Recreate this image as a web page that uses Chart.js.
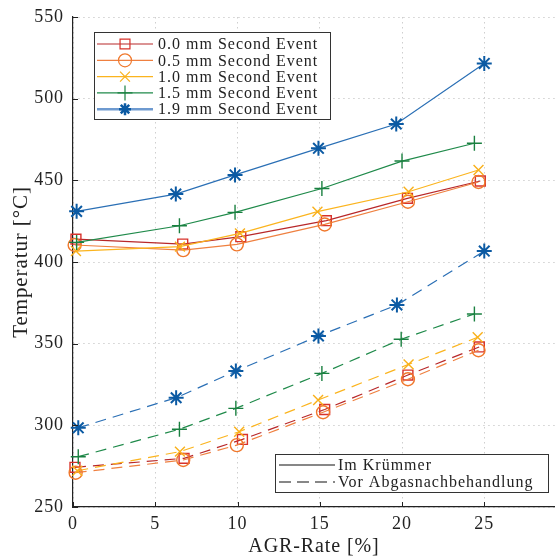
<!DOCTYPE html>
<html>
<head>
<meta charset="utf-8">
<script src="https://cdn.jsdelivr.net/npm/chart.js@4/dist/chart.umd.min.js"></script>
<style>
html,body{margin:0;padding:0;background:#fff;}
#wrap{width:555px;height:559px;position:relative;}
</style>
</head>
<body>
<div id="wrap"><canvas id="c" width="555" height="559"></canvas></div>
<script>
// ---- Data ----
const seriesNames = ['0.0 mm Second Event','0.5 mm Second Event','1.0 mm Second Event','1.5 mm Second Event','1.9 mm Second Event'];
const lineStyleNames = ['Im Krümmer','Vor Abgasnachbehandlung'];
const xTicks = [0,5,10,15,20,25];
const yTicks = [250,300,350,400,450,500,550];

// Im Krümmer (solid)
const x00s = [0.18, 6.67, 10.2, 15.4, 20.33, 24.76];
const y00s = [414.0, 411.0, 415.5, 425.3, 439.0, 449.6];
const x05s = [0.1, 6.7, 9.96, 15.3, 20.36, 24.65];
const y05s = [410.4, 407.3, 410.8, 423.0, 436.9, 449.0];
const x10s = [0.18, 6.5, 10.15, 14.86, 20.4, 24.65];
const y10s = [406.7, 409.4, 417.5, 430.8, 443.0, 456.3];
const x15s = [0.22, 6.47, 9.85, 15.13, 20.0, 24.4];
const y15s = [412.0, 422.2, 430.4, 445.0, 461.8, 472.7];
const x19s = [0.22, 6.25, 9.85, 14.92, 19.65, 25.0];
const y19s = [431.0, 441.6, 453.3, 469.6, 484.5, 521.6];

// Vor Abgasnachbehandlung (dashed)
const x00d = [0.12, 6.75, 10.3, 15.3, 20.36, 24.7];
const y00d = [274.3, 279.8, 291.4, 309.7, 330.8, 348.0];
const x05d = [0.16, 6.7, 9.96, 15.2, 20.36, 24.65];
const y05d = [271.0, 278.8, 287.9, 308.0, 328.2, 346.0];
const x10d = [0.26, 6.5, 10.1, 14.9, 20.4, 24.6];
const y10d = [272.2, 283.9, 296.1, 315.5, 337.3, 353.9];
const x15d = [0.32, 6.47, 9.9, 15.13, 19.95, 24.4];
const y15d = [280.8, 297.6, 310.4, 331.8, 352.7, 368.2];
const x19d = [0.32, 6.27, 9.9, 14.92, 19.69, 25.0];
const y19d = [298.5, 316.9, 333.2, 354.7, 373.7, 406.7];

// ---- Styles ----
const colors = ['#d8322b','#f0782c','#f9b01a','#1a8040','#0b5aa3'];
const lineColors = ['#b8282a','#ef8040','#fbb41e','#1f8a4a','#2a6fb5'];
const markers = ['rect','circle','crossRot','cross','star'];
const radii = [7, 6.5, 7, 7.5, 7.5];
const DASH = [11,7];

const solidX = [x00s,x05s,x10s,x15s,x19s], solidY = [y00s,y05s,y10s,y15s,y19s];
const dashX = [x00d,x05d,x10d,x15d,x19d], dashY = [y00d,y05d,y10d,y15d,y19d];

function pts(xs, ys){ return xs.map((x,i)=>({x:x,y:ys[i]})); }

const datasets = [];
for (let i=0;i<5;i++){
  datasets.push({
    label: seriesNames[i] + ' (' + lineStyleNames[0] + ')',
    data: pts(solidX[i], solidY[i]),
    borderColor: lineColors[i], backgroundColor: 'rgba(0,0,0,0)',
    borderWidth: 1.2, pointStyle: markers[i], pointRadius: radii[i],
    pointBorderColor: colors[i], pointBackgroundColor: 'rgba(0,0,0,0)',
    pointBorderWidth: i===4?2:1.4, tension: 0, clip: false, order: 5-i
  });
}
for (let i=0;i<5;i++){
  datasets.push({
    label: seriesNames[i] + ' (' + lineStyleNames[1] + ')',
    data: pts(dashX[i], dashY[i]),
    borderColor: lineColors[i], backgroundColor: 'rgba(0,0,0,0)',
    borderWidth: 1.2, borderDash: DASH, pointStyle: markers[i], pointRadius: radii[i],
    pointBorderColor: colors[i], pointBackgroundColor: 'rgba(0,0,0,0)',
    pointBorderWidth: i===4?2:1.4, tension: 0, clip: false, order: 5-i
  });
}

const SERIF = '"Liberation Serif","DejaVu Serif",serif';

const spacingPlugin = {
  id: 'spacing',
  beforeLayout(chart){ chart.ctx.letterSpacing = '0.9px'; },
  beforeDraw(chart){ chart.ctx.letterSpacing = '0.9px'; }
};

const legendPlugin = {
  id: 'customLegends',
  afterDraw(chart){
    const ctx = chart.ctx;
    ctx.save();
    ctx.letterSpacing = '1px';
    // Legend 1
    const bx = 94, by = 32, bw = 236, bh = 87;
    ctx.fillStyle = '#fff'; ctx.fillRect(bx,by,bw,bh);
    ctx.strokeStyle = '#333'; ctx.lineWidth = 1; ctx.setLineDash([]);
    ctx.strokeRect(bx+0.5,by+0.5,bw,bh);
    ctx.font = '16px ' + SERIF; ctx.textBaseline = 'middle'; ctx.textAlign = 'left';
    for (let i=0;i<5;i++){
      const yy = 44 + i*16.3;
      ctx.strokeStyle = i===4 ? '#6e9ad0' : lineColors[i]; ctx.lineWidth = i===4?2.5:1.2;
      ctx.beginPath(); ctx.moveTo(97,yy); ctx.lineTo(153,yy); ctx.stroke();
      ctx.strokeStyle = colors[i]; ctx.fillStyle='rgba(0,0,0,0)';
      Chart.helpers.drawPoint(ctx, {pointStyle: markers[i], radius: i===4?6:radii[i], borderWidth: i===4?1.8:1.4, rotation: 0}, 125, yy);
      ctx.fillStyle = '#222';
      ctx.fillText(seriesNames[i], 158, yy+1);
    }
    // Legend 2
    const cx = 275, cy = 454, cw = 273, ch = 38;
    ctx.fillStyle = '#fff'; ctx.fillRect(cx,cy,cw,ch);
    ctx.strokeStyle = '#333'; ctx.lineWidth = 1;
    ctx.strokeRect(cx+0.5,cy+0.5,cw,ch);
    ctx.strokeStyle = '#111'; ctx.lineWidth = 1.2;
    ctx.beginPath(); ctx.moveTo(279,465); ctx.lineTo(335,465); ctx.stroke();
    ctx.setLineDash([12,6]);
    ctx.beginPath(); ctx.moveTo(279,482); ctx.lineTo(335,482); ctx.stroke();
    ctx.setLineDash([]);
    ctx.fillStyle = '#222';
    ctx.fillText(lineStyleNames[0], 338, 466);
    ctx.fillText(lineStyleNames[1], 338, 483);
    ctx.restore();
  }
};

const ticksPlugin = {
  id: 'innerTicks',
  afterDatasetsDraw(chart){
    const ctx = chart.ctx, xs = chart.scales.x, ys = chart.scales.y, a = chart.chartArea;
    ctx.save();
    ctx.strokeStyle = '#222'; ctx.lineWidth = 1; ctx.setLineDash([]);
    xTicks.forEach(v=>{ const p = Math.round(xs.getPixelForValue(v))+0.5;
      ctx.beginPath(); ctx.moveTo(p,a.bottom); ctx.lineTo(p,a.bottom-5); ctx.stroke(); });
    yTicks.forEach(v=>{ const p = Math.round(ys.getPixelForValue(v))+0.5;
      ctx.beginPath(); ctx.moveTo(a.left,p); ctx.lineTo(a.left+5,p); ctx.stroke(); });
    ctx.restore();
  }
};

new Chart(document.getElementById('c'), {
  type: 'line',
  data: { datasets },
  plugins: [spacingPlugin, ticksPlugin, legendPlugin],
  options: {
    responsive: false, animation: false,
    layout: { autoPadding: false, padding: { top: 17, right: 0, left: 0, bottom: 0 } },
    plugins: { legend: { display: false }, tooltip: { enabled: false } },
    scales: {
      x: {
        type: 'linear', min: 0, max: 29.3,
        afterBuildTicks(s){ s.ticks = xTicks.map(v=>({value:v})); },
        afterFit(s){ s.height = 52; s.paddingLeft = 0; s.paddingRight = 0; },
        grid: { color: '#cfcfcf', lineWidth: 1, drawTicks: false },
        border: { display: true, color: '#222', width: 1.2, dash: [1.5,3.5] },
        ticks: { color: '#222', font: { family: SERIF, size: 18 }, padding: 6, maxRotation: 0 },
        title: { display: true, text: 'AGR-Rate [%]', color: '#222', font: { family: SERIF, size: 20 }, padding: { top: 0, bottom: 0 } }
      },
      y: {
        type: 'linear', min: 250, max: 550,
        afterBuildTicks(s){ s.ticks = yTicks.map(v=>({value:v})); },
        afterFit(s){ s.width = 73; s.paddingTop = 0; s.paddingBottom = 0; },
        grid: { color: '#cfcfcf', lineWidth: 1, drawTicks: false },
        border: { display: true, color: '#222', width: 1.2, dash: [1.5,3.5] },
        ticks: { color: '#222', font: { family: SERIF, size: 18 }, padding: 9 },
        title: { display: true, text: 'Temperatur [°C]', color: '#222', font: { family: SERIF, size: 21 }, padding: { top: 9, bottom: 0 } }
      }
    }
  }
});
</script>
</body>
</html>
